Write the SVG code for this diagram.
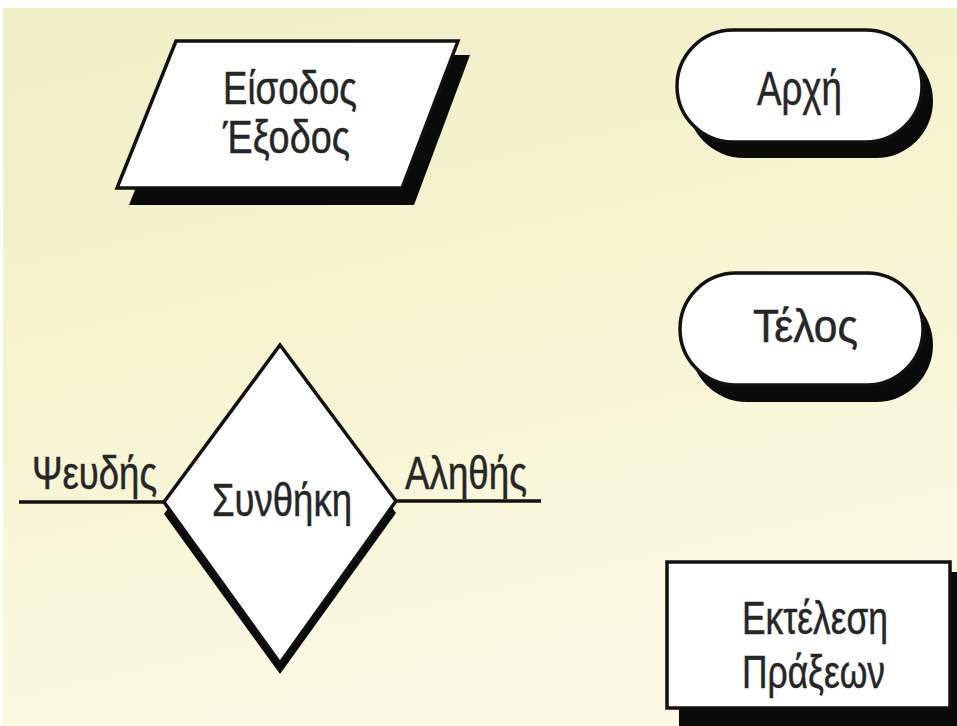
<svg xmlns="http://www.w3.org/2000/svg" width="957" height="726" viewBox="0 0 957 726">
  <defs>
    <linearGradient id="bg" x1="0" y1="0" x2="0.3" y2="1">
      <stop offset="0" stop-color="#efeec4"/>
      <stop offset="0.5" stop-color="#f7f4d0"/>
      <stop offset="1" stop-color="#fbf9e4"/>
    </linearGradient>
    <style>
      .shape { fill: #ffffff; stroke: #111111; stroke-width: 3.5; stroke-linejoin: miter; }
      .shadow { fill: #0a0a0a; stroke: none; }
      .lbl { font-family: "Liberation Sans", Arial, sans-serif; font-size: 47px; fill: #262626; stroke: #262626; stroke-width: 0.5; }
      .conn { stroke: #111111; stroke-width: 3.5; fill: none; }
    </style>
  </defs>
  <rect x="0" y="0" width="957" height="726" fill="#ffffff"/>
  <rect x="3" y="8" width="954" height="718" fill="url(#bg)"/>

  <g id="connectors">
    <line class="conn" x1="19" y1="502" x2="164" y2="502"/>
    <line class="conn" x1="396" y1="501" x2="541" y2="501"/>
  </g>

  <g id="node-io">
    <polygon class="shadow" points="188,55 470,55 414,205 129,205"/>
    <polygon class="shape" points="176,41 458,41 402,188 117,188"/>
    <text class="lbl" x="223" y="104" textLength="134" lengthAdjust="spacingAndGlyphs">Είσοδος</text>
    <text class="lbl" x="223" y="153" textLength="127" lengthAdjust="spacingAndGlyphs">Έξοδος</text>
  </g>

  <g id="node-start">
    <rect class="shadow" x="687" y="44" width="246" height="114" rx="57"/>
    <rect class="shape" x="677" y="30" width="245" height="112" rx="56" stroke-width="4"/>
    <text class="lbl" x="757" y="105" textLength="85" lengthAdjust="spacingAndGlyphs" style="font-size:49px">Αρχή</text>
  </g>

  <g id="node-end">
    <rect class="shadow" x="690" y="288" width="243" height="114" rx="57"/>
    <rect class="shape" x="680" y="273" width="243" height="112" rx="56" stroke-width="4"/>
    <text class="lbl" x="753" y="342" textLength="105" lengthAdjust="spacingAndGlyphs">Τέλος</text>
  </g>

  <g id="node-decision">
    <polygon class="shadow" points="280,356 396,513 280,674 164,514"/>
    <polygon class="shape" points="280,345 396,501 280,663 164,502"/>
    <text class="lbl" x="212" y="516" textLength="140" lengthAdjust="spacingAndGlyphs">Συνθήκη</text>
  </g>

  <g id="label-false">
    <text class="lbl" x="32" y="489" textLength="125" lengthAdjust="spacingAndGlyphs">Ψευδής</text>
  </g>
  <g id="label-true">
    <text class="lbl" x="405" y="489" textLength="122" lengthAdjust="spacingAndGlyphs">Αληθής</text>
  </g>

  <g id="node-process">
    <rect class="shadow" x="679" y="572" width="290" height="160"/>
    <rect class="shape" x="667" y="562" width="283" height="146"/>
    <text class="lbl" x="742" y="634" textLength="146" lengthAdjust="spacingAndGlyphs">Εκτέλεση</text>
    <text class="lbl" x="742" y="688" textLength="143" lengthAdjust="spacingAndGlyphs">Πράξεων</text>
  </g>
</svg>
